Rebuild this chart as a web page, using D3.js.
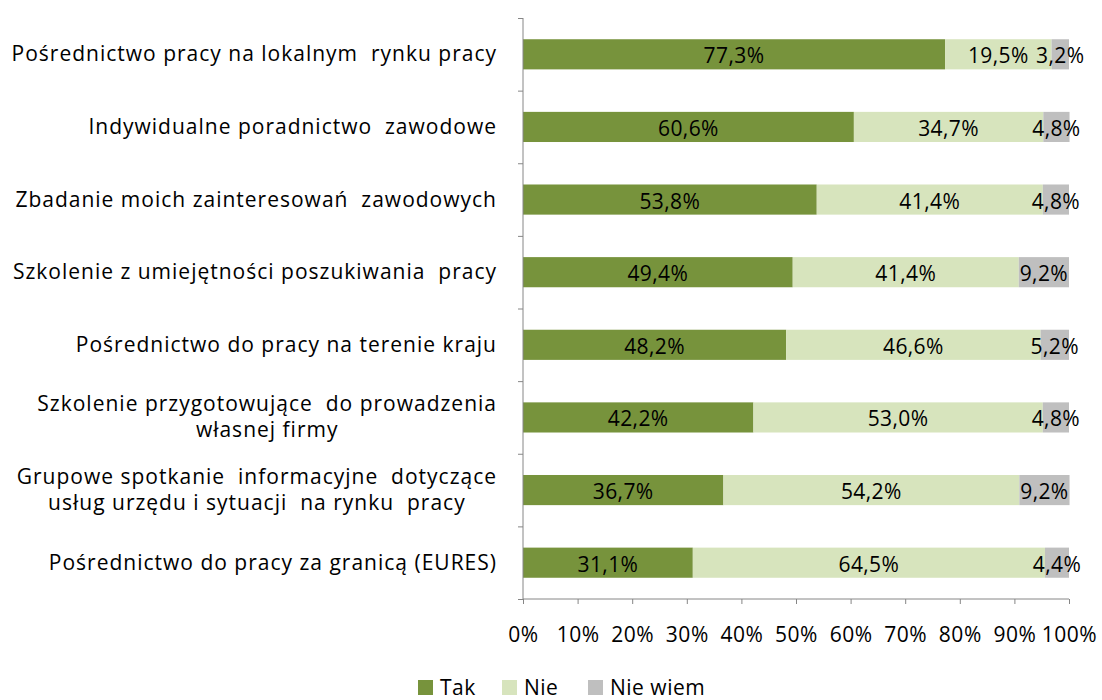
<!DOCTYPE html>
<html>
<head>
<meta charset="utf-8">
<script src="https://cdn.jsdelivr.net/npm/d3@7"></script>
<style>
  body { margin: 0; background: #fff; }
  svg text { font-family: "Open Sans", Lato, sans-serif; fill: #000; }
</style>
</head>
<body>
<svg id="chart" width="1102" height="700"></svg>
<script>
// categories (top to bottom), each label split into lines
const categories = [
  ["Pośrednictwo pracy na lokalnym  rynku pracy"],
  ["Indywidualne poradnictwo  zawodowe"],
  ["Zbadanie moich zainteresowań  zawodowych"],
  ["Szkolenie z umiejętności poszukiwania  pracy"],
  ["Pośrednictwo do pracy na terenie kraju"],
  ["Szkolenie przygotowujące  do prowadzenia", "własnej firmy"],
  ["Grupowe spotkanie  informacyjne  dotyczące", "usług urzędu i sytuacji  na rynku  pracy"],
  ["Pośrednictwo do pracy za granicą (EURES)"]
]
const seriesNames = ["Tak", "Nie", "Nie wiem"]
const tak = [77.3, 60.6, 53.8, 49.4, 48.2, 42.2, 36.7, 31.1]
const nie = [19.5, 34.7, 41.4, 41.4, 46.6, 53.0, 54.2, 64.5]
const nieWiem = [3.2, 4.8, 4.8, 9.2, 5.2, 4.8, 9.2, 4.4]
const xTicks = [0, 10, 20, 30, 40, 50, 60, 70, 80, 90, 100]

const colors = ["#77933c", "#d7e4bd", "#bfbfbf"]

const svg = d3.select("#chart")
const margin = {top: 18, left: 523, right: 33, bottom: 101}
const width = 1102 - margin.left - margin.right
const height = 700 - margin.top - margin.bottom

const g = svg.append("g").attr("transform", `translate(${margin.left},${margin.top})`)

//build rows
const rows = categories.map((c, i) => ({idx: i, "Tak": tak[i], "Nie": nie[i], "Nie wiem": nieWiem[i]}))
const stacked = d3.stack().keys(seriesNames)(rows)

const x = d3.scaleLinear().domain([0, 100]).range([0, width])
const y = d3.scaleBand().domain(d3.range(categories.length)).range([0, height]).paddingInner(0.585).paddingOuter(0.2925)

// bars
stacked.forEach((layer, li) => {
  g.append("g").selectAll("rect")
    .data(layer)
    .enter().append("rect")
    .attr("x", d => x(d[0]))
    .attr("y", d => y(d.data.idx))
    .attr("width", d => x(d[1]) - x(d[0]))
    .attr("height", y.bandwidth())
    .attr("fill", colors[li])

  g.append("g").selectAll("text")
    .data(layer)
    .enter().append("text")
    .attr("x", d => x((d[0] + d[1]) / 2))
    .attr("y", d => y(d.data.idx) + y.bandwidth() / 2 + 9)
    .attr("text-anchor", "middle")
    .style("font-size", "21px")
    .style("letter-spacing", "0.4px")
    .text(d => (d[1] - d[0]).toFixed(1).replace(".", ",") + "%")
})

// axes
const axisColor = "#868686"
const yAxis = g.append("g")
  .call(d3.axisLeft(d3.scaleLinear().domain([0, categories.length]).range([0, height]))
    .tickValues(d3.range(categories.length + 1)).tickSize(5).tickFormat(""))
yAxis.selectAll("line, path").attr("stroke", axisColor)
yAxis.select("path").attr("d", `M0,0V${height}`)

const xAxis = g.append("g")
  .attr("transform", `translate(0,${height})`)
  .call(d3.axisBottom(x).tickValues(xTicks).tickSize(5).tickFormat(d => d + "%"))
xAxis.selectAll("line, path").attr("stroke", axisColor)
xAxis.select("path").attr("d", `M0,0H${width}`)
xAxis.selectAll("text").style("font-size", "21px").style("letter-spacing", "0.5px")
  .attr("y", 28).attr("fill", "#000")

// category labels
const labels = g.append("g").selectAll("text")
  .data(categories)
  .enter().append("text")
  .attr("text-anchor", "middle")
  .style("font-size", "21px")
  .style("letter-spacing", "1px")
  .style("white-space", "pre")
  .attr("transform", (d, i) => `translate(0,${y(i) + y.bandwidth() / 2})`)

labels.selectAll("tspan")
  .data(d => d.map((line, j) => ({line, j, n: d.length})))
  .enter().append("tspan")
  .attr("x", 0)
  .attr("y", d => (d.j - (d.n - 1) / 2) * 26 + 7)
  .text(d => d.line)

// center each label block at its widest line, right-aligned against axis
labels.each(function () {
  const tspans = d3.select(this).selectAll("tspan")
  const maxW = d3.max(tspans.nodes(), n => n.getComputedTextLength())
  tspans.attr("x", -26 - maxW / 2)
})

// legend
const legend = svg.append("g").attr("transform", "translate(418,680)")
const legendX = [0, 84, 170]
seriesNames.forEach((name, i) => {
  const item = legend.append("g").attr("transform", `translate(${legendX[i]},0)`)
  item.append("rect").attr("width", 15).attr("height", 15).attr("fill", colors[i])
  item.append("text").attr("x", 22).attr("y", 15).style("font-size", "21px")
    .style("letter-spacing", "0.5px").text(name)
})
</script>
</body>
</html>
